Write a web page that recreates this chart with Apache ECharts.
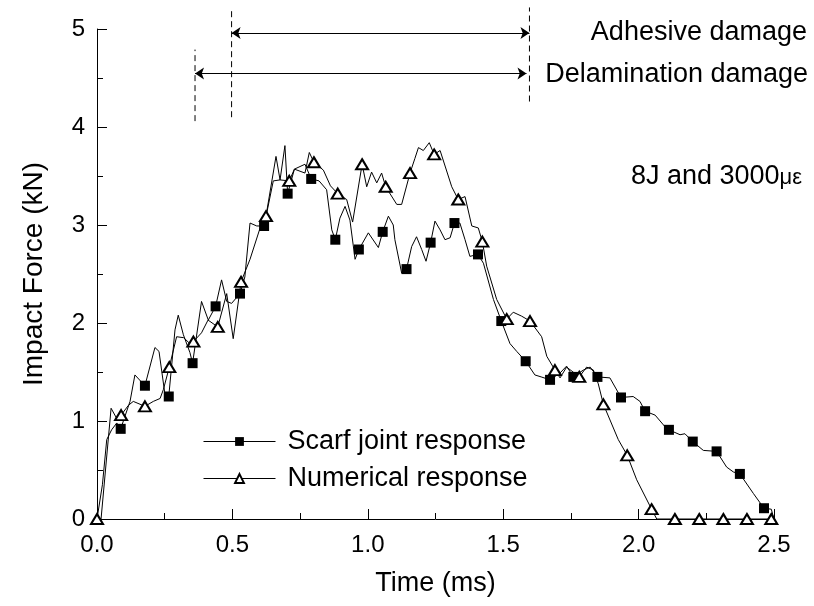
<!DOCTYPE html>
<html>
<head>
<meta charset="utf-8">
<script src="https://cdn.jsdelivr.net/npm/echarts@6/dist/echarts.min.js"></script>
<style>
  html, body { margin: 0; padding: 0; background: #fff; }
  #main { width: 814px; height: 606px; }
</style>
</head>
<body>
<div id="main"></div>
<script>
// scarf joint response: time (ms), force (kN), 1 = point carries a marker
var scarfT = [0, 0.02, 0.036, 0.054, 0.073, 0.0875, 0.122, 0.14, 0.177, 0.214, 0.229, 0.251, 0.265,
  0.288, 0.30, 0.319, 0.343, 0.353, 0.386, 0.411, 0.438, 0.46, 0.479, 0.497, 0.528, 0.546, 0.565,
  0.59, 0.617, 0.651, 0.676, 0.694, 0.704, 0.729, 0.768, 0.791, 0.82, 0.848, 0.867, 0.88, 0.897,
  0.916, 0.934, 0.953, 0.967, 1.002, 1.039, 1.055, 1.076, 1.094, 1.10, 1.125, 1.143, 1.162, 1.18,
  1.199, 1.215, 1.232, 1.248, 1.267, 1.285, 1.304, 1.32, 1.34, 1.359, 1.377, 1.407, 1.427, 1.464,
  1.493, 1.525, 1.55, 1.583, 1.617, 1.64, 1.673, 1.71, 1.734, 1.759, 1.796, 1.821, 1.848, 1.894,
  1.935, 1.98, 2.005, 2.024, 2.061, 2.098, 2.112, 2.153, 2.171, 2.2, 2.239, 2.288, 2.325, 2.35,
  2.374, 2.424, 2.463, 2.49, 2.5];
var scarfF = [0, 0.35, 0.81, 0.91, 0.98, 0.92, 1.20, 1.47, 1.36, 1.75, 1.71, 1.27, 1.25,
  1.93, 2.08, 1.88, 1.70, 1.59, 2.22, 2.03, 2.17, 2.44, 2.22, 2.20, 2.30, 2.47, 3.02,
  2.99, 2.99, 3.45, 3.46, 3.81, 3.32, 3.57, 3.62, 3.47, 3.45, 3.36, 2.95, 2.85, 3.07,
  3.19, 3.05, 2.65, 2.75, 2.92, 2.77, 2.93, 3.09, 3.00, 2.85, 2.51, 2.55, 2.78, 2.88,
  2.75, 2.63, 2.82, 3.04, 2.95, 2.85, 2.87, 3.02, 3.02, 2.85, 2.68, 2.70, 2.61, 2.24,
  2.02, 1.79, 1.71, 1.61, 1.47, 1.45, 1.42, 1.49, 1.56, 1.45, 1.52, 1.55, 1.45, 1.44,
  1.24, 1.25, 1.20, 1.10, 1.06, 0.94, 0.91, 0.86, 0.87, 0.79, 0.70, 0.69, 0.53, 0.48,
  0.46, 0.26, 0.11, 0.10, 0.0];
var scarfMark = [0, 0, 0, 0, 0, 1, 0, 0, 1, 0, 0, 0, 1,
  0, 0, 0, 0, 1, 0, 0, 1, 0, 0, 0, 1, 0, 0,
  0, 1, 0, 0, 0, 1, 0, 0, 1, 0, 0, 0, 1, 0,
  0, 0, 0, 1, 0, 0, 1, 0, 0, 0, 0, 1, 0, 0,
  0, 0, 1, 0, 0, 0, 0, 1, 0, 0, 0, 1, 0, 0,
  1, 0, 0, 1, 0, 0, 1, 0, 0, 1, 0, 0, 1, 0,
  1, 0, 0, 1, 0, 0, 1, 0, 0, 1, 0, 1, 0, 0,
  1, 0, 1, 0, 0];

// numerical response
var numT = [0, 0.015, 0.052, 0.072, 0.089, 0.116, 0.134, 0.177, 0.208, 0.233, 0.245, 0.267, 0.294,
  0.32, 0.343, 0.356, 0.386, 0.41, 0.446, 0.479, 0.503, 0.532, 0.565, 0.60, 0.624, 0.661, 0.676,
  0.71, 0.729, 0.768, 0.784, 0.801, 0.836, 0.862, 0.889, 0.922, 0.944, 0.979, 0.996, 1.014, 1.033,
  1.051, 1.066, 1.107, 1.125, 1.156, 1.174, 1.187, 1.205, 1.227, 1.245, 1.267, 1.31, 1.334, 1.359,
  1.384, 1.408, 1.423, 1.439, 1.476, 1.513, 1.537, 1.568, 1.599, 1.642, 1.661, 1.691, 1.71, 1.734,
  1.758, 1.781, 1.808, 1.833, 1.851, 1.87, 1.925, 1.958, 1.993, 2.048, 2.067, 2.134, 2.224, 2.313,
  2.40, 2.49];
var numF = [0, 0.0, 1.13, 1.03, 1.06, 1.16, 1.20, 1.15, 1.20, 1.23, 1.32, 1.55, 1.86,
  1.85, 1.79, 1.81, 1.90, 2.03, 1.96, 2.30, 1.84, 2.42, 2.65, 2.95, 3.09, 3.70, 3.46,
  3.45, 3.57, 3.53, 3.74, 3.64, 3.56, 3.40, 3.32, 3.26, 3.03, 3.62, 3.39, 3.54, 3.43,
  3.53, 3.39, 3.21, 3.21, 3.53, 3.68, 3.79, 3.76, 3.84, 3.72, 3.76, 3.39, 3.26, 3.29,
  2.99, 2.97, 2.83, 2.58, 2.24, 2.04, 2.11, 2.07, 2.02, 1.86, 1.66, 1.52, 1.44, 1.55,
  1.50, 1.45, 1.55, 1.52, 1.38, 1.17, 0.81, 0.65, 0.40, 0.10, 0.0, 0.0, 0.0, 0.0,
  0.0, 0.0];
var numMark = [1, 0, 0, 0, 1, 0, 0, 1, 0, 0, 0, 1, 0,
  0, 0, 1, 0, 0, 1, 0, 0, 1, 0, 0, 1, 0, 0,
  1, 0, 0, 0, 1, 0, 0, 1, 0, 0, 1, 0, 0, 0,
  0, 1, 0, 0, 1, 0, 0, 0, 0, 1, 0, 0, 1, 0,
  0, 0, 1, 0, 0, 1, 0, 0, 1, 0, 0, 1, 0, 0,
  0, 1, 0, 0, 0, 1, 0, 1, 0, 1, 0, 1, 1, 1,
  1, 1];

// damage ranges (ms) and the force level of their arrows
var adhesiveRange = [0.497, 1.597];
var delamRange = [0.362, 1.586];
var adhesiveLevel = 4.96;
var delamLevel = 4.545;

// dashed boundary lines: time, lower and upper force
var vlineT = [0.362, 0.497, 1.597];
var vlineLow = [4.06, 4.10, 4.26];
var vlineHigh = [4.79, 5.22, 5.22];

var FONT = 'Liberation Sans, Arial, sans-serif';

function buildData(t, f, m) {
  var out = [];
  for (var i = 0; i < t.length; i++) {
    var item = { value: [t[i], f[i]] };
    if (!m[i]) item.symbol = 'none';
    out.push(item);
  }
  return out;
}

var vlineData = vlineT.map(function (t, i) { return [t, vlineLow[i], vlineHigh[i]]; });

var chart = echarts.init(document.getElementById('main'));
chart.setOption({
  animation: false,
  color: ['#000', '#000'],
  grid: { left: 97, right: 40, top: 29, bottom: 87 },
  legend: {
    data: ['Scarf joint response', 'Numerical response'],
    orient: 'vertical',
    left: 198,
    top: 423,
    itemWidth: 72,
    itemHeight: 11,
    itemGap: 10,
    textStyle: { fontFamily: FONT, fontSize: 27, color: '#000', padding: [0, 0, 0, 7] },
    itemStyle: { borderWidth: 1 },
    lineStyle: { width: 1 }
  },
  xAxis: {
    type: 'value',
    min: 0,
    max: 2.5,
    interval: 0.5,
    name: 'Time (ms)',
    nameLocation: 'middle',
    nameGap: 51,
    nameTextStyle: { fontFamily: FONT, fontSize: 27, color: '#000' },
    axisLine: { lineStyle: { color: '#000', width: 1 } },
    axisTick: { inside: true, length: 10, lineStyle: { color: '#000' } },
    minorTick: { show: true, splitNumber: 2, length: 6, lineStyle: { color: '#000' } },
    axisLabel: {
      fontFamily: FONT, fontSize: 24, color: '#000', margin: 14,
      formatter: function (v) { return v.toFixed(1); }
    },
    splitLine: { show: false }
  },
  yAxis: {
    type: 'value',
    min: 0,
    max: 5,
    interval: 1,
    name: 'Impact Force (kN)',
    nameLocation: 'middle',
    nameGap: 49,
    nameTextStyle: { fontFamily: FONT, fontSize: 28, color: '#000' },
    axisLine: { show: true, lineStyle: { color: '#000', width: 1 } },
    axisTick: { show: true, inside: true, length: 10, lineStyle: { color: '#000' } },
    minorTick: { show: true, splitNumber: 2, length: 6, lineStyle: { color: '#000' } },
    axisLabel: { fontFamily: FONT, fontSize: 24, color: '#000', margin: 12 },
    splitLine: { show: false }
  },
  graphic: [
    {
      type: 'text', right: 7, top: 19,
      style: { text: 'Adhesive damage', font: '27px ' + FONT, fill: '#000' }
    },
    {
      type: 'text', right: 6, top: 61,
      style: { text: 'Delamination damage', font: '27px ' + FONT, fill: '#000' }
    },
    {
      type: 'text', right: 12, top: 163,
      style: {
        text: '8J and 3000{g|με}',
        font: '27px ' + FONT,
        fill: '#000',
        rich: { g: { fontFamily: FONT, fontSize: 22, fill: '#000', padding: [3, 0, 0, 0] } }
      }
    }
  ],
  series: [
    {
      name: 'Scarf joint response',
      type: 'line',
      symbol: 'rect',
      symbolSize: 10,
      showAllSymbol: true,
      itemStyle: { color: '#000' },
      lineStyle: { color: '#000', width: 1 },
      data: buildData(scarfT, scarfF, scarfMark)
    },
    {
      name: 'Numerical response',
      type: 'line',
      symbol: 'emptyTriangle',
      symbolSize: [12, 10],
      showAllSymbol: true,
      itemStyle: { color: '#000', borderWidth: 1 },
      lineStyle: { color: '#000', width: 1 },
      data: buildData(numT, numF, numMark),
      z: 3
    },
    {
      name: 'damage ranges',
      type: 'line',
      data: [],
      markLine: {
        silent: true,
        symbol: ['arrow', 'arrow'],
        symbolSize: 9,
        label: { show: false },
        lineStyle: { type: 'solid', width: 1, color: '#000' },
        data: [
          [{ coord: [adhesiveRange[0], adhesiveLevel] }, { coord: [adhesiveRange[1], adhesiveLevel] }],
          [{ coord: [delamRange[0], delamLevel] }, { coord: [delamRange[1], delamLevel] }]
        ]
      }
    },
    {
      name: 'boundaries',
      type: 'custom',
      clip: false,
      silent: true,
      encode: { x: 0, y: [1, 2] },
      data: vlineData,
      renderItem: function (params, api) {
        var a = api.coord([api.value(0), api.value(1)]);
        var b = api.coord([api.value(0), api.value(2)]);
        return {
          type: 'line',
          shape: { x1: a[0], y1: a[1], x2: b[0], y2: b[1] },
          style: { stroke: '#000', lineWidth: 1, lineDash: [6, 4] }
        };
      }
    }
  ]
});
</script>
</body>
</html>
